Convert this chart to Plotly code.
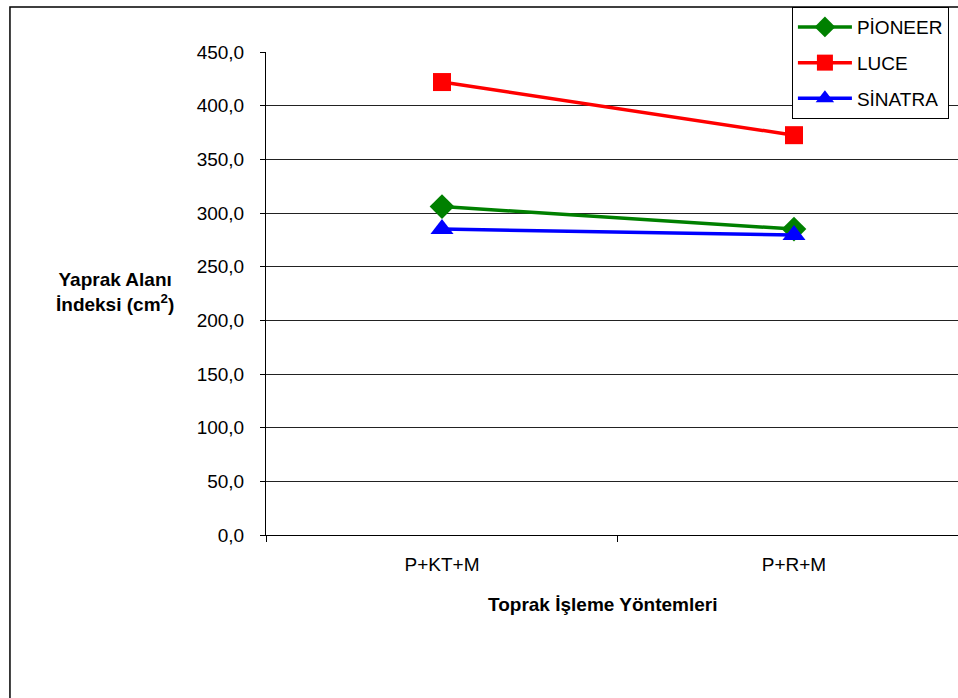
import plotly.graph_objects as go

categories = ["P+KT+M", "P+R+M"]
pioneer = [306.0, 285.0]
luce = [422.0, 372.5]
sinatra = [285.0, 279.5]
y_ticks = [0, 50, 100, 150, 200, 250, 300, 350, 400, 450]

FONT = "Liberation Sans, Arial, sans-serif"

fig = go.Figure()
series = [
    ("PİONEER", pioneer, "#008000", "diamond", 19),
    ("LUCE", luce, "#FF0000", "square", 18),
    ("SİNATRA", sinatra, "#0000FF", "triangle-up", 20),
]
for name, vals, col, sym, sz in series:
    fig.add_trace(go.Scatter(
        x=categories, y=vals, name=name, mode="lines+markers",
        line=dict(color=col, width=3.5),
        marker=dict(color=col, symbol=sym, size=sz, line=dict(width=0)),
        legendgroup=name,
    ))

fig.update_layout(
    width=958, height=698,
    margin=dict(l=266, r=0, t=52, b=163),
    paper_bgcolor="white", plot_bgcolor="white",
    font=dict(family=FONT, size=19, color="black"),
    separators=",.",
    showlegend=True,
    legend=dict(
        x=0.760, y=1.093, xanchor="left", yanchor="top",
        bordercolor="black", borderwidth=1, bgcolor="white",
        font=dict(size=19, family=FONT),
        tracegroupgap=8, traceorder="grouped",
        itemwidth=54,
    ),
    xaxis=dict(
        type="category", range=[-0.5, 1.466],
        showline=True, linecolor="black", linewidth=1,
        ticks="outside", tickson="boundaries", ticklen=6, tickcolor="black",
        showgrid=False, zeroline=False, ticklabelstandoff=12,
        tickfont=dict(size=19),
    ),
    yaxis=dict(
        range=[0, 450], tickvals=y_ticks, tickformat=".1f",
        showline=True, linecolor="black", linewidth=1,
        ticks="outside", ticklen=5, tickcolor="black",
        showgrid=True, gridcolor="#222222", gridwidth=1,
        zeroline=False, ticklabelstandoff=12,
        tickfont=dict(size=19),
    ),
    annotations=[
        dict(text="<b>Yaprak Alanı<br>İndeksi (cm<sup>2</sup>)</b>",
             x=-0.218, y=0.503, xref="paper", yref="paper",
             xanchor="center", yanchor="middle", showarrow=False,
             font=dict(size=19, family=FONT), align="center"),
        dict(text="<b>Toprak İşleme Yöntemleri</b>",
             x=0.487, y=-0.143, xref="paper", yref="paper",
             xanchor="center", yanchor="middle", showarrow=False,
             font=dict(size=19, family=FONT)),
    ],
    shapes=[
        dict(type="rect", xref="paper", yref="paper",
             x0=-0.37, x1=1.2, y0=-0.6, y1=1.0932,
             line=dict(color="black", width=1.5), layer="below"),
    ],
)

fig.write_html("out.html")
